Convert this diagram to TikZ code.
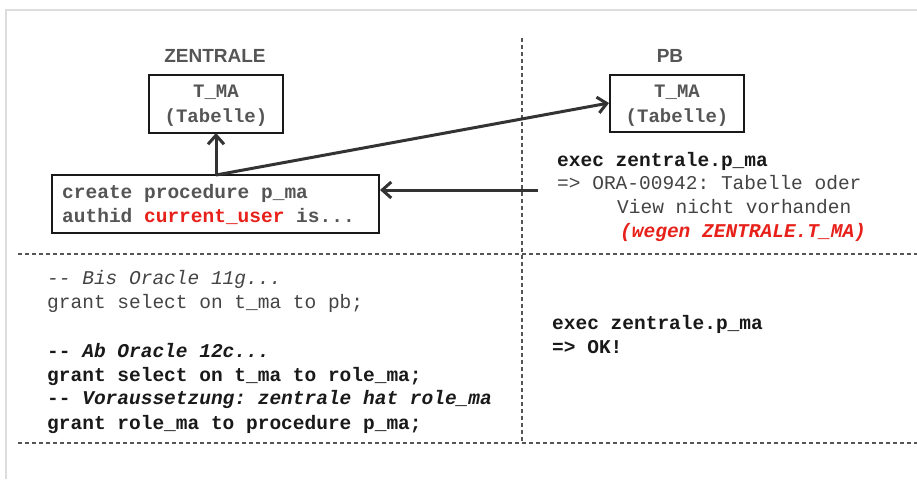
\documentclass[tikz,border=0pt]{standalone}
\usepackage{fontspec}
\setmonofont{Liberation Mono}
\setsansfont{Liberation Sans}
\usetikzlibrary{arrows.meta}
\definecolor{txtgray}{HTML}{444444}
\definecolor{boxgray}{HTML}{555555}
\definecolor{linegray}{HTML}{333333}
\definecolor{dashgray}{HTML}{555555}
\definecolor{shadow}{HTML}{DDDDDD}
\definecolor{errred}{HTML}{E8201A}
\tikzset{
  code/.style={anchor=base west, inner sep=0pt, font=\fontsize{19.5}{23}\selectfont\ttfamily, text=txtgray},
  codeb/.style={code, font=\fontsize{19.5}{23}\selectfont\ttfamily\bfseries, text=black!90},
  title/.style={anchor=base, inner sep=0pt, font=\fontsize{19}{22}\selectfont\sffamily\bfseries, text=boxgray},
  tbox/.style={draw=black!90, line width=2.2pt},
  btext/.style={anchor=base, inner sep=0pt, font=\fontsize{19}{22}\selectfont\ttfamily\bfseries, text=boxgray},
  conn/.style={draw=linegray, line width=3pt, -{Straight Barb[length=9pt,width=16pt,line width=3pt]}},
  sep/.style={draw=dashgray, line width=1.4pt, dash pattern=on 4pt off 3pt}
}
\begin{document}
\begin{tikzpicture}[x=1pt,y=-1pt]
\useasboundingbox (0,0) rectangle (917,479);
\fill[white] (0,0) rectangle (917,479);
% outer frame shadow
\draw[shadow, line width=2pt] (6,479) -- (6,10) -- (917,10);
% separators
\draw[sep] (18,254) -- (917,254);
\draw[sep] (18,443) -- (917,443);
\draw[sep] (522,38) -- (522,443);
% titles
\node[title] (tz) at (215,62) {ZENTRALE};
\node[title] (tp) at (670,62) {PB};
% boxes
\draw[tbox] (149,75) rectangle (283,133);
\node[btext] (lt1) at (216,97) {T\_MA};
\node[btext] (lt2) at (216,122) {(Tabelle)};
\coordinate (lbox) at (216,133);
\draw[tbox] (610,75) rectangle (744,132);
\node[btext] (rt1) at (677,97) {T\_MA};
\node[btext] (rt2) at (677,122) {(Tabelle)};
\coordinate (rbox) at (609,103);
\draw[tbox] (52,175) rectangle (379,233);
\node[code, font=\fontsize{19.5}{23}\selectfont\ttfamily\bfseries, text=boxgray] (p1) at (62,198) {create procedure p\_ma};
\node[code, font=\fontsize{19.5}{23}\selectfont\ttfamily\bfseries, text=boxgray] (p2) at (62,222) {authid \textcolor{errred}{current\_user} is...};
\coordinate (pstart) at (216,175);
\coordinate (pright) at (380,190);
\coordinate (src) at (538,190);
% connectors
\draw[conn] (pstart) -- (lbox);
\draw[conn] (pstart) -- (rbox);
\draw[conn] (src) -- (pright);
% right top text
\node[codeb] (e1) at (557,166) {exec zentrale.p\_ma};
\node[code] (e2) at (557,189) {=> ORA-00942: Tabelle oder};
\node[code] (e3) at (617,213) {View nicht vorhanden};
\node[code, font=\fontsize{19.5}{23}\selectfont\ttfamily\bfseries\itshape, text=errred] (e4) at (620,237) {(wegen ZENTRALE.T\_MA)};
% bottom left
\node[code, font=\fontsize{19.5}{23}\selectfont\ttfamily\itshape] (b1) at (47,284) {-- Bis Oracle 11g...};
\node[code] (b2) at (47,308) {grant select on t\_ma to pb;};
\node[codeb] (b3) at (47,357) {-- \textit{Ab Oracle 12c...}};
\node[codeb] (b4) at (47,381) {grant select on t\_ma to role\_ma;};
\node[codeb] (b5) at (47,404) {-- \textit{Voraussetzung: zentrale hat role\_ma}};
\node[codeb] (b6) at (47,429) {grant role\_ma to procedure p\_ma;};
% bottom right
\node[codeb] (c1) at (552,329) {exec zentrale.p\_ma};
\node[codeb] (c2) at (552,353) {=> OK!};
\end{tikzpicture}
\end{document}
